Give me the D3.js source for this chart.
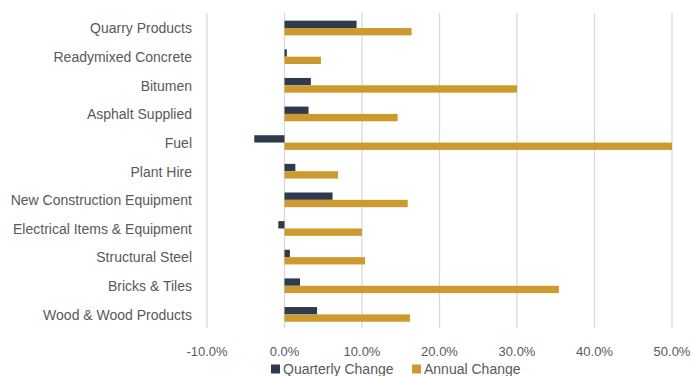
<!doctype html>
<html lang='en'>
<head>
<meta charset="utf-8">
<script src="https://d3js.org/d3.v7.min.js"></script>
<style>
  body { margin: 0; background: #fff; }
  svg text { font-family: 'Liberation Sans', 'DejaVu Sans', sans-serif; fill: #595959; }
</style>
</head>
<body>
<div id='chart'></div>
<script>
const categories = ['Quarry Products', 'Readymixed Concrete', 'Bitumen', 'Asphalt Supplied', 'Fuel',
  'Plant Hire', 'New Construction Equipment', 'Electrical Items & Equipment', 'Structural Steel',
  'Bricks & Tiles', 'Wood & Wood Products'];
const quarterly = [9.3, 0.3, 3.4, 3.1, -3.9, 1.4, 6.2, -0.8, 0.7, 2.0, 4.2];
const annual = [16.4, 4.7, 30.0, 14.6, 50.0, 6.9, 15.9, 10.0, 10.4, 35.4, 16.2];
const ticks = [-10, 0, 10, 20, 30, 40, 50];
const seriesNames = ['Quarterly Change', 'Annual Change'];

const W = 691, H = 376;
const colors = ['#2e3a4e', '#cc9a2e'];

const svg = d3.select('#chart').append('svg').attr('width', W).attr('height', H);

const x = d3.scaleLinear().domain([-10, 50]).range([207, 672]);
const y = d3.scaleBand().domain(categories).range([13, 328]);
const inner = d3.scaleBand().domain([0, 1]).range([0, y.bandwidth()]).paddingOuter(0.95).paddingInner(0);

// gridlines
svg.append('g').selectAll('line').data(ticks).enter().append('line')
  .attr('x1', d => x(d)).attr('x2', d => x(d))
  .attr('y1', 13).attr('y2', 328)
  .attr('stroke', '#d9d9d9').attr('stroke-width', 1.3);

// bars
const rows = categories.map((c, i) => [quarterly[i], annual[i]]);
const grp = svg.append('g').selectAll('g').data(rows).enter().append('g')
  .attr('transform', (d, i) => 'translate(0,' + (y(categories[i]) + 0.7) + ')');
grp.selectAll('rect').data(d => d).enter().append('rect')
  .attr('x', d => x(Math.min(0, d)))
  .attr('width', d => Math.abs(x(d) - x(0)))
  .attr('y', (d, j) => inner(j))
  .attr('height', inner.bandwidth())
  .attr('fill', (d, j) => colors[j]);

// category labels
svg.append('g').selectAll('text').data(categories).enter().append('text')
  .attr('x', 192).attr('y', d => y(d) + y.bandwidth() / 2 + 1)
  .attr('text-anchor', 'end').attr('dominant-baseline', 'central')
  .attr('font-size', 14).text(d => d);

// tick labels (plain hyphen for minus, like the original)
const fmt = d3.format('.1f');
svg.append('g').selectAll('text').data(ticks).enter().append('text')
  .attr('x', d => x(d)).attr('y', 351)
  .attr('text-anchor', 'middle').attr('dominant-baseline', 'central')
  .attr('font-size', 13).text(d => fmt(d).replace('\u2212', '-') + '%');

// legend
const legendX = [271, 412];
const leg = svg.append('g').selectAll('g').data(seriesNames).enter().append('g')
  .attr('transform', (d, i) => 'translate(' + legendX[i] + ',369)');
leg.append('rect').attr('x', 0).attr('y', -4.5).attr('width', 9).attr('height', 9)
  .attr('fill', (d, i) => colors[i]);
leg.append('text').attr('x', 12).attr('y', 0).attr('dominant-baseline', 'central')
  .attr('font-size', 14).text(d => d);
</script>
</body>
</html>
